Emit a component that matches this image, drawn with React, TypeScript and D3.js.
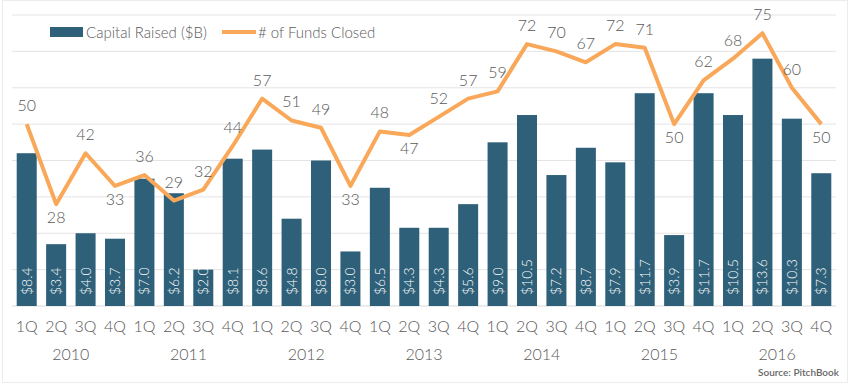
import React from "react";
import * as d3 from "d3";

const quarters = [
  "1Q", "2Q", "3Q", "4Q", "1Q", "2Q", "3Q", "4Q", "1Q", "2Q", "3Q", "4Q", "1Q", "2Q",
  "3Q", "4Q", "1Q", "2Q", "3Q", "4Q", "1Q", "2Q", "3Q", "4Q", "1Q", "2Q", "3Q", "4Q",
];
const years = ["2010", "2011", "2012", "2013", "2014", "2015", "2016"];
const capitalRaised = [
  8.4, 3.4, 4.0, 3.7, 7.0, 6.2, 2.0, 8.1, 8.6, 4.8, 8.0, 3.0, 6.5, 4.3,
  4.3, 5.6, 9.0, 10.5, 7.2, 8.7, 7.9, 11.7, 3.9, 11.7, 10.5, 13.6, 10.3, 7.3,
];
const fundsClosed = [
  50, 28, 42, 33, 36, 29, 32, 44, 57, 51, 49, 33, 48, 47,
  52, 57, 59, 72, 70, 67, 72, 71, 50, 62, 68, 75, 60, 50,
];
// indices whose line label sits under the point
const labelsBelow = [1, 3, 11, 13, 22, 27];

const W = 852;
const H = 384;
const left = 12;
const right = 836;
const top = 15;
const bottom = 306;

const BAR = "#2e6079";
const LINE = "#f9a85a";
const TEXT = "#595959";
const FONT = "Lato, 'Open Sans', sans-serif";

export default function App() {
  const ids = quarters.map((_, i) => String(i));
  const x = d3.scaleBand().domain(ids).range([left, right]).paddingInner(0.32).paddingOuter(0.16);
  const yBar = d3.scaleLinear().domain([0, 16]).range([bottom, top]);
  const yLine = d3.scaleLinear().domain([0, 80]).range([bottom, top]);
  const cx = (i: number) => (x(String(i)) as number) + x.bandwidth() / 2;

  const line = d3
    .line<number>()
    .x((_, i) => cx(i))
    .y((d) => yLine(d));

  const grid = yBar.ticks(8);

  return (
    <div style={{ position: "absolute", left: 0, top: 0 }}>
      <svg width={W} height={H} style={{ display: "block", background: "#fff" }}>
        <rect x={2.5} y={0.5} width={845} height={382} fill="none" stroke="#ececec" />
        {grid.map((t) => (
          <line
            key={t}
            x1={left}
            x2={right}
            y1={yBar(t)}
            y2={yBar(t)}
            stroke={t === 0 ? "#d9d9d9" : "#e4e4e4"}
            strokeWidth={1}
          />
        ))}

        {/* legend */}
        <rect x={50} y={27} width={33} height={10} fill={BAR} />
        <text x={86} y={37.5} fontSize={15} fill={TEXT} fontWeight={300} fontFamily={FONT}>
          Capital Raised ($B)
        </text>
        <line x1={222} x2={256} y1={32} y2={32} stroke={LINE} strokeWidth={4} />
        <text x={258} y={37.5} fontSize={15} fill={TEXT} fontWeight={300} fontFamily={FONT}>
          # of Funds Closed
        </text>

        {capitalRaised.map((v, i) => (
          <g key={i}>
            <rect
              x={x(String(i))}
              y={yBar(v)}
              width={x.bandwidth()}
              height={bottom - yBar(v)}
              fill={BAR}
            />
            <text
              transform={`translate(${cx(i)},${bottom - 11}) rotate(-90)`}
              dy="0.36em"
              fontSize={14}
              fill="#fff"
              fontWeight={300}
              fontFamily={FONT}
            >
              {"$" + v.toFixed(1)}
            </text>
          </g>
        ))}

        <path
          d={line(fundsClosed) || ""}
          fill="none"
          stroke={LINE}
          strokeWidth={4}
          strokeLinejoin="round"
        />
        {fundsClosed.map((v, i) => {
          const below = labelsBelow.includes(i);
          return (
            <text
              key={i}
              x={cx(i)}
              y={yLine(v) + (below ? 19 : -13)}
              textAnchor="middle"
              fontSize={16}
              fill={TEXT}
              fontWeight={300}
              fontFamily={FONT}
            >
              {v}
            </text>
          );
        })}

        {quarters.map((q, i) => (
          <text
            key={i}
            x={cx(i)}
            y={332}
            textAnchor="middle"
            fontSize={16}
            fill={TEXT}
            fontWeight={300}
            fontFamily={FONT}
          >
            {q}
          </text>
        ))}
        {years.map((yr, k) => (
          <text
            key={yr}
            x={(cx(k * 4) + cx(k * 4 + 3)) / 2}
            y={360}
            textAnchor="middle"
            fontSize={16}
            fill={TEXT}
            fontWeight={300}
            fontFamily={FONT}
          >
            {yr}
          </text>
        ))}
        <text
          x={839}
          y={376}
          textAnchor="end"
          fontSize={10}
          fontWeight={600}
          fill="#666"
          fontFamily={FONT}
        >
          Source: PitchBook
        </text>
      </svg>
    </div>
  );
}
